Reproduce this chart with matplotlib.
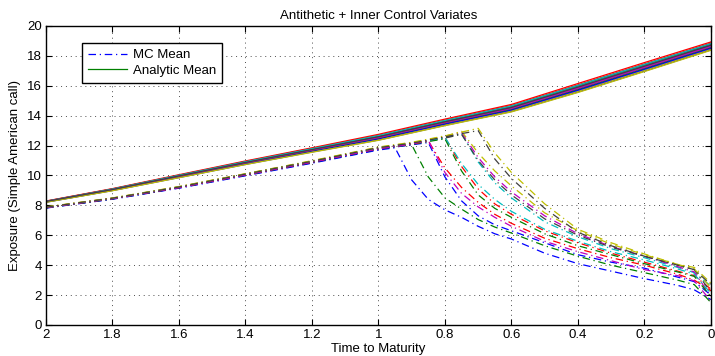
import matplotlib
matplotlib.use("Agg")
import matplotlib.pyplot as plt
from matplotlib.ticker import FormatStrFormatter, MultipleLocator

plt.rcParams['font.family'] = ['Liberation Sans', 'DejaVu Sans']

# time grids
t_mc = [2.0, 1.8, 1.6, 1.4, 1.2, 1.0, 0.95, 0.9, 0.85, 0.8, 0.75, 0.7,
        0.65, 0.6, 0.5, 0.4, 0.3, 0.2, 0.1, 0.05, 0.0]
t_an = [2.0, 1.8, 1.6, 1.4, 1.2, 1.0, 0.8, 0.6, 0.4, 0.2, 0.0]

# MC mean exposure per path (dash-dot lines)
mc_0 = [7.82, 8.41, 9.15, 9.98, 10.82, 11.7, 11.85, 9.7, 8.4, 7.7, 7.2, 6.6, 6.1, 5.75, 4.8, 4.1, 3.6, 3.1, 2.65, 2.35, 1.7]
mc_1 = [7.84, 8.44, 9.18, 10.02, 10.87, 11.76, 11.92, 12.05, 9.9, 8.5, 7.75, 7.05, 6.55, 6.15, 5.3, 4.6, 4.0, 3.5, 3.0, 2.7, 1.5]
mc_2 = [7.87, 8.47, 9.22, 10.08, 10.93, 11.83, 11.98, 12.14, 12.33, 12.55, 10.6, 9.1, 8.1, 7.4, 6.3, 5.5, 4.8, 4.2, 3.6, 3.3, 2.4]
mc_3 = [7.86, 8.46, 9.21, 10.06, 10.92, 11.82, 11.97, 12.12, 12.32, 12.53, 12.8, 10.9, 9.5, 8.5, 6.9, 5.9, 5.1, 4.5, 3.85, 3.5, 2.6]
mc_4 = [7.88, 8.48, 9.24, 10.1, 10.96, 11.86, 12.01, 12.17, 12.37, 12.58, 12.88, 11.2, 9.9, 8.9, 7.3, 6.1, 5.25, 4.6, 3.9, 3.55, 1.9]
mc_5 = [7.9, 8.5, 9.26, 10.12, 10.99, 11.9, 12.06, 12.22, 12.43, 12.65, 12.9, 13.15, 11.5, 10.2, 8.1, 6.4, 5.5, 4.75, 4.05, 3.85, 2.8]
mc_6 = [7.85, 8.45, 9.2, 10.05, 10.9, 11.8, 11.95, 12.1, 12.3, 12.5, 12.75, 11.0, 9.7, 8.7, 7.1, 6.0, 5.2, 4.6, 4.0, 3.7, 2.2]
mc_7 = [7.83, 8.43, 9.17, 10.01, 10.85, 11.75, 11.9, 12.05, 12.2, 9.9, 8.3, 7.3, 6.7, 6.3, 5.5, 4.7, 4.2, 3.8, 3.2, 2.9, 2.0]
mc_8 = [7.84, 8.44, 9.19, 10.03, 10.88, 11.78, 11.93, 12.08, 12.27, 12.45, 10.3, 8.7, 7.8, 7.2, 6.1, 5.3, 4.7, 4.1, 3.55, 3.25, 1.9]
mc_9 = [7.86, 8.46, 9.2, 10.05, 10.9, 11.8, 11.96, 12.11, 12.3, 10.5, 9.2, 8.2, 7.4, 6.8, 5.8, 5.1, 4.5, 4.0, 3.4, 3.0, 2.3]
mc_10 = [7.87, 8.47, 9.23, 10.08, 10.94, 11.84, 11.99, 12.15, 12.34, 12.55, 10.8, 9.4, 8.4, 7.6, 6.4, 5.6, 4.9, 4.35, 3.75, 3.4, 2.1]
mc_11 = [7.85, 8.45, 9.19, 10.04, 10.89, 11.79, 11.94, 12.1, 12.35, 10.2, 8.8, 7.9, 7.2, 6.6, 5.6, 4.9, 4.3, 3.7, 3.3, 2.95, 1.6]
mc_12 = [7.89, 8.49, 9.25, 10.11, 10.97, 11.88, 12.03, 12.19, 12.4, 12.62, 12.95, 11.5, 10.3, 9.3, 7.5, 6.3, 5.4, 4.7, 4.05, 3.75, 2.5]
mc_13 = [7.88, 8.48, 9.23, 10.09, 10.95, 11.86, 12.01, 12.16, 12.36, 12.58, 12.8, 13.0, 11.1, 9.8, 7.8, 6.2, 5.3, 4.6, 4.0, 3.7, 2.7]

# analytic mean exposure per path (solid lines)
an_0 = [8.21, 8.99, 9.86, 10.74, 11.57, 12.37, 13.35, 14.28, 15.58, 16.98, 18.40]
an_1 = [8.23, 9.02, 9.91, 10.80, 11.64, 12.47, 13.46, 14.40, 15.73, 17.13, 18.54]
an_2 = [8.29, 9.12, 10.05, 10.97, 11.85, 12.75, 13.77, 14.75, 16.15, 17.55, 18.93]
an_3 = [8.26, 9.07, 9.98, 10.89, 11.75, 12.61, 13.62, 14.58, 15.94, 17.34, 18.73]
an_4 = [8.25, 9.06, 9.96, 10.86, 11.72, 12.57, 13.57, 14.53, 15.88, 17.28, 18.68]
an_5 = [8.22, 9.00, 9.88, 10.77, 11.60, 12.41, 13.40, 14.33, 15.64, 17.04, 18.45]
an_6 = [8.27, 9.09, 10.00, 10.91, 11.78, 12.65, 13.66, 14.63, 16.00, 17.40, 18.79]
an_7 = [8.23, 9.02, 9.90, 10.79, 11.63, 12.45, 13.44, 14.38, 15.70, 17.10, 18.51]
an_8 = [8.24, 9.04, 9.93, 10.83, 11.67, 12.51, 13.51, 14.45, 15.79, 17.19, 18.59]
an_9 = [8.28, 9.10, 10.02, 10.93, 11.81, 12.69, 13.70, 14.68, 16.06, 17.46, 18.85]
an_10 = [8.27, 9.09, 10.01, 10.92, 11.79, 12.67, 13.68, 14.65, 16.03, 17.43, 18.82]
an_11 = [8.25, 9.04, 9.94, 10.84, 11.69, 12.53, 13.53, 14.48, 15.82, 17.22, 18.62]
an_12 = [8.21, 8.98, 9.85, 10.73, 11.55, 12.35, 13.33, 14.25, 15.55, 16.95, 18.37]
an_13 = [8.26, 9.06, 9.97, 10.87, 11.73, 12.59, 13.59, 14.55, 15.91, 17.31, 18.71]

mc_paths = [mc_0, mc_1, mc_2, mc_3, mc_4, mc_5, mc_6, mc_7, mc_8, mc_9, mc_10, mc_11, mc_12, mc_13]
an_paths = [an_0, an_1, an_2, an_3, an_4, an_5, an_6, an_7, an_8, an_9, an_10, an_11, an_12, an_13]

# old matlab colour order
colors = [(0, 0, 1), (0, 0.5, 0), (1, 0, 0), (0, 0.75, 0.75),
          (0.75, 0, 0.75), (0.75, 0.75, 0), (0.25, 0.25, 0.25)]

fig = plt.figure(figsize=(7.15, 3.56), dpi=100)
ax = fig.add_axes([0.0643, 0.0871, 0.930, 0.840])

mc_lines = []
an_lines = []
# plotted path by path, like matlab's hold all
for i in range(len(mc_paths)):
    l, = ax.plot(t_mc, mc_paths[i], color=colors[i % 7], lw=0.9,
                 linestyle=(0, (6, 3, 1, 3)))
    mc_lines.append(l)
    l, = ax.plot(t_an, an_paths[i], color=colors[i % 7], lw=0.9)
    an_lines.append(l)

ax.set_xlim(2, 0)
ax.set_ylim(0, 20)
ax.xaxis.set_major_locator(MultipleLocator(0.2))
ax.yaxis.set_major_locator(MultipleLocator(2))
ax.xaxis.set_major_formatter(FormatStrFormatter('%g'))
ax.yaxis.set_major_formatter(FormatStrFormatter('%g'))
ax.grid(True, linestyle=(0, (1, 4)), color='0.3', lw=0.7)
ax.tick_params(direction='in', top=True, right=True, length=4, labelsize=9.5, pad=3)
for s in ax.spines.values():
    s.set_linewidth(1.0)

ax.set_title('Antithetic + Inner Control Variates', fontsize=9.5, pad=5)
ax.set_xlabel('Time to Maturity', fontsize=9.5, labelpad=1)
ax.set_ylabel('Exposure (Simple American call)', fontsize=9.5, labelpad=4)

leg = ax.legend([mc_lines[0], an_lines[1]], ['MC Mean', 'Analytic Mean'],
                loc='upper left', bbox_to_anchor=(0.054, 0.943), fontsize=9.5,
                handlelength=3.0, fancybox=False, framealpha=1,
                borderaxespad=0, borderpad=0.45, labelspacing=0.25, handletextpad=0.4)
leg.get_frame().set_edgecolor('black')
leg.get_frame().set_linewidth(1.0)

fig.savefig('out.png', dpi=100)
